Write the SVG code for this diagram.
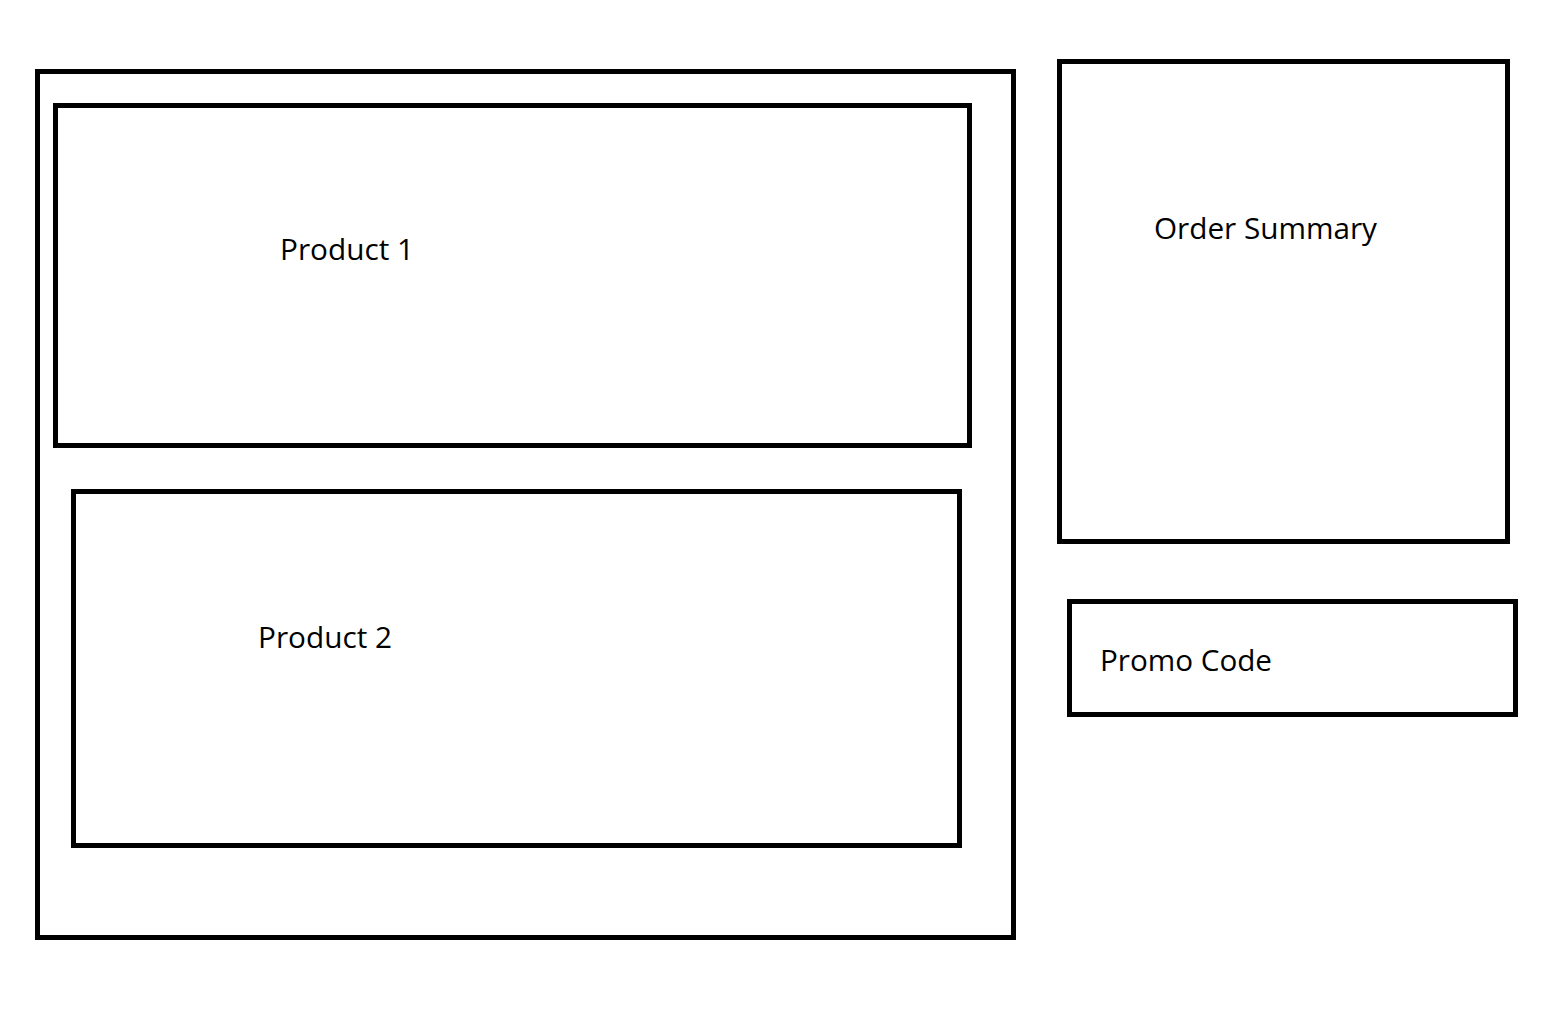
<svg xmlns="http://www.w3.org/2000/svg" width="1568" height="1034" viewBox="0 0 1568 1034">
<style>
.box{fill:none;stroke:#000;stroke-width:5}
.lbl{font-family:"Open Sans","Noto Sans","Liberation Sans",sans-serif;font-size:30px;fill:#000}
</style>
<rect width="1568" height="1034" fill="#fff"/>
<g id="cart">
<rect class="box" x="37.5" y="71.5" width="976" height="866"/>
</g>
<g id="product1">
<rect class="box" x="55.5" y="105.5" width="914" height="340"/>
<text class="lbl" x="280" y="260" textLength="134" lengthAdjust="spacingAndGlyphs">Product 1</text>
</g>
<g id="product2">
<rect class="box" x="73.5" y="491.5" width="886" height="354"/>
<text class="lbl" x="258" y="648" textLength="134" lengthAdjust="spacingAndGlyphs">Product 2</text>
</g>
<g id="order-summary">
<rect class="box" x="1059.5" y="61.5" width="448" height="480"/>
<text class="lbl" x="1154" y="239" textLength="223" lengthAdjust="spacingAndGlyphs">Order Summary</text>
</g>
<g id="promo-code">
<rect class="box" x="1069.5" y="601.5" width="446" height="113"/>
<text class="lbl" x="1100" y="671" textLength="172" lengthAdjust="spacingAndGlyphs">Promo Code</text>
</g>
<g id="connectors"></g>
</svg>
